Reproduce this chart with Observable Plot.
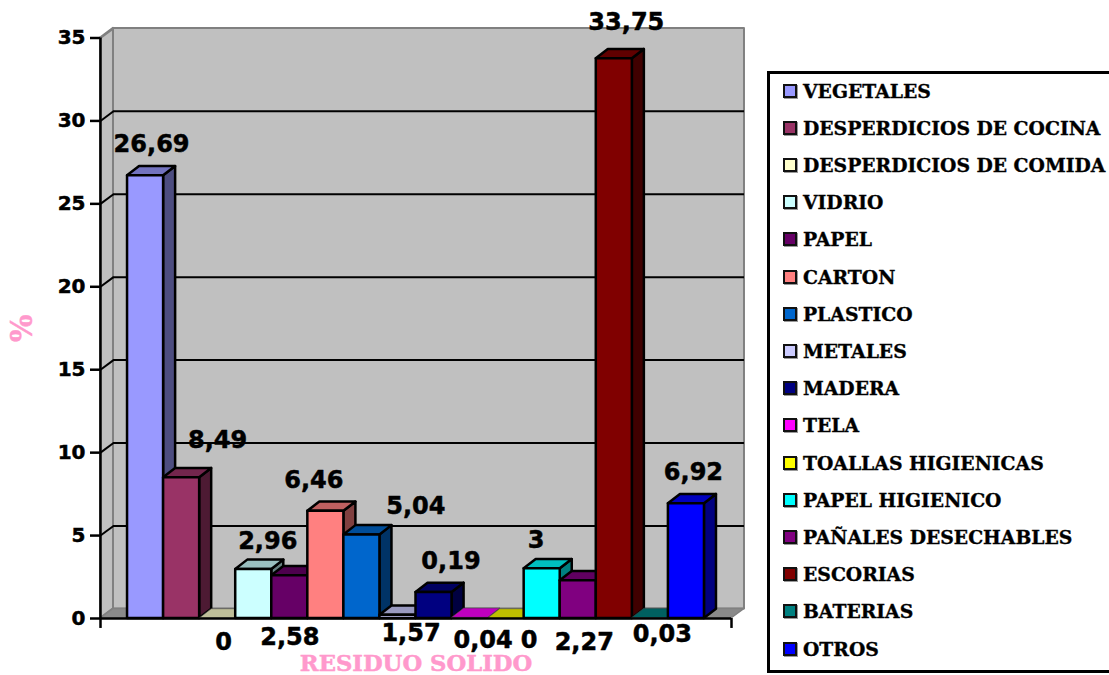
<!DOCTYPE html>
<html lang="es">
<head>
<meta charset="utf-8">
<title>Residuo sólido</title>
<script src="https://cdn.jsdelivr.net/npm/d3@7"></script>
<script src="https://cdn.jsdelivr.net/npm/@observablehq/plot@0.6"></script>
<style>
  html, body { margin: 0; padding: 0; background: #fff; }
  #page { position: relative; width: 1109px; height: 675px; overflow: hidden; }
  #legend {
    position: absolute; left: 767px; top: 71px; width: 360px; height: 602px;
    box-sizing: border-box; border: 3px solid #000; background: #fff; padding-top: 0;
    font: bold 18.8px "DejaVu Serif", serif; color: #000; -webkit-text-stroke: 0.35px #000;
  }
  #legend .row { position: absolute; left: 13px; display: flex; align-items: center; height: 20px; white-space: nowrap; }
  #legend .swatch { width: 10px; height: 10px; border: 2px solid #111; margin-right: 6px; box-shadow: 1px 1px 0 #999; }
  [aria-label="y-axis tick label"] { stroke: #000; stroke-width: 0.5px; }
</style>
</head>
<body>
<div id="page">
  <div id="chart"></div>
  <div id="legend"></div>
</div>
<script>
const categories = ["VEGETALES", "DESPERDICIOS DE COCINA", "DESPERDICIOS DE COMIDA", "VIDRIO", "PAPEL", "CARTON", "PLASTICO", "METALES", "MADERA", "TELA", "TOALLAS HIGIENICAS", "PAPEL HIGIENICO", "PAÑALES DESECHABLES", "ESCORIAS", "BATERIAS", "OTROS"];
const values = [26.69, 8.49, 0, 2.96, 2.58, 6.46, 5.04, 0.19, 1.57, 0.04, 0, 3, 2.27, 33.75, 0.03, 6.92];
const colors = ["#9999FF", "#993366", "#FFFFCC", "#CCFFFF", "#660066", "#FF8080", "#0066CC", "#CCCCFF", "#000080", "#FF00FF", "#FFFF00", "#00FFFF", "#800080", "#800000", "#008080", "#0000FF"];
const yTicks = [0, 5, 10, 15, 20, 25, 30, 35];

// Hand-placed data labels: pixel offset from the centre of each bar's top front edge.
const labelDx = [6, 36, 6, 14, 0, -12, 54, 53, -23, 13, 23, -6, 6, 12, 12, 7];
const labelDy = [-32, -37, 24, -28, 62, -31, -29, -54, 41, 22, 22, -28, 61, -36, 16, -31];

// Oblique projection, in scale units: each column occupies one unit of x.
const xStart = -0.75, xEnd = 16.75;
const barDepthX = 1 / 3, barDepthY = 0.56;
const wallDepthX = 0.36, wallDepthY = 0.58;
const yMax = 35;
const xTickDrop = 0.6;

const shade = (hex, k) => { const c = d3.rgb(hex); return d3.rgb(c.r * k, c.g * k, c.b * k).formatHex(); };

// A parallelogram drawn as a two-point area, one edge per point.
const face = (a, b, options) => Plot.area([a, b], {x1: "x1", y1: "y1", x2: "x2", y2: "y2", ...options});

const wallStyle = {fill: "#C0C0C0", stroke: "#808080", strokeWidth: 2, strokeLinejoin: "round"};

const walls = [
  // back wall
  Plot.rect([0], {x1: xStart + wallDepthX, x2: xEnd + wallDepthX, y1: wallDepthY, y2: yMax + wallDepthY, ...wallStyle}),
  // left wall
  face({x1: xStart, x2: xStart, y1: 0, y2: yMax},
       {x1: xStart + wallDepthX, x2: xStart + wallDepthX, y1: wallDepthY, y2: yMax + wallDepthY},
       wallStyle),
  // floor
  face({x1: xStart, x2: xEnd, y1: 0, y2: 0},
       {x1: xStart + wallDepthX, x2: xEnd + wallDepthX, y1: wallDepthY, y2: wallDepthY},
       {fill: "#8A8A8A", stroke: "#808080", strokeWidth: 1.5}),
  // gridlines across the back wall and down the left wall
  Plot.ruleY(yTicks.slice(1, -1), {y: (d) => d + wallDepthY, x1: xStart + wallDepthX, x2: xEnd + wallDepthX, stroke: "#000", strokeWidth: 2}),
  Plot.link(yTicks.slice(1), {x1: xStart, y1: (d) => d, x2: xStart + wallDepthX, y2: (d) => d + wallDepthY, stroke: (d) => d === yMax ? "#808080" : "#000", strokeWidth: 2})
];

// Columns are painted left to right so that each one covers its neighbour's side face.
// Columns that are almost flat keep only a hairline round their slab.
const bars = values.flatMap((v, i) => {
  const outline = v < 0.1
    ? {stroke: "#444", strokeWidth: 0.6, strokeLinejoin: "round"}
    : {stroke: "#000", strokeWidth: 2.5, strokeLinejoin: "round"};
  return [
    face({x1: i + 1, x2: i + 1, y1: 0, y2: v},
         {x1: i + 1 + barDepthX, x2: i + 1 + barDepthX, y1: barDepthY, y2: v + barDepthY},
         {fill: shade(colors[i], 0.5), ...outline}),
    face({x1: i, x2: i + 1, y1: v, y2: v},
         {x1: i + barDepthX, x2: i + 1 + barDepthX, y1: v + barDepthY, y2: v + barDepthY},
         {fill: shade(colors[i], 0.75), ...outline}),
    Plot.rect([v], {x1: i, x2: i + 1, y1: 0, y2: v, fill: colors[i], ...outline})
  ];
});

const labels = values.map((v, i) => Plot.text([String(v).replace(".", ",")], {
  x: i + 0.5, y: v, dx: labelDx[i], dy: labelDy[i], text: (d) => d,
  fontFamily: "DejaVu Sans", fontWeight: "bold", fontSize: 24, fill: "#000", stroke: "#000", strokeWidth: 0.5, lineAnchor: "middle"
}));

const titleStyle = {text: (d) => d, fontFamily: "DejaVu Serif", fontWeight: "bold", fill: "#FF99CC", stroke: "#FF99CC", strokeWidth: 0.5, lineAnchor: "middle"};

const chart = Plot.plot({
  width: 1109,
  height: 675,
  marginLeft: 100,
  marginRight: 378,
  marginTop: 37.5,
  marginBottom: 57,
  style: {background: "transparent", overflow: "visible"},
  x: {type: "linear", domain: [xStart, xEnd], axis: null},
  y: {type: "linear", domain: [0, yMax], axis: null},
  marks: [
    ...walls,
    ...bars,
    // front axes
    Plot.ruleX([xStart], {y1: 0, y2: yMax, stroke: "#000", strokeWidth: 2.5}),
    Plot.ruleY([0], {x1: xStart, x2: xEnd, stroke: "#000", strokeWidth: 2.5}),
    Plot.axisY({ticks: yTicks, tickSize: 10, tickPadding: 5, anchor: "left", label: null, strokeWidth: 2.5, stroke: "#000",
      fontFamily: "DejaVu Sans", fontWeight: "bold", fontSize: 20, fill: "#000"}),
    Plot.ruleX([xStart, xEnd], {y1: 0, y2: -xTickDrop, stroke: "#000", strokeWidth: 2.5}),
    ...labels,
    // axis titles
    Plot.text(["RESIDUO SOLIDO"], {x: 8, y: 0, dy: 45, fontSize: 22.7, ...titleStyle}),
    Plot.text(["%"], {x: xStart, y: yMax / 2, dx: -78, rotate: -90, fontSize: 29, ...titleStyle})
  ]
});
document.getElementById("chart").append(chart);

// Legend box beside the plot
const legend = d3.select("#legend");
const rows = legend.selectAll(".row").data(categories).join("div")
  .attr("class", "row")
  .style("top", (d, i) => `${6.5 + i * 37.2}px`);
rows.append("span").attr("class", "swatch").style("background", (d, i) => colors[i]);
rows.append("span").text((d) => d);
</script>
</body>
</html>
